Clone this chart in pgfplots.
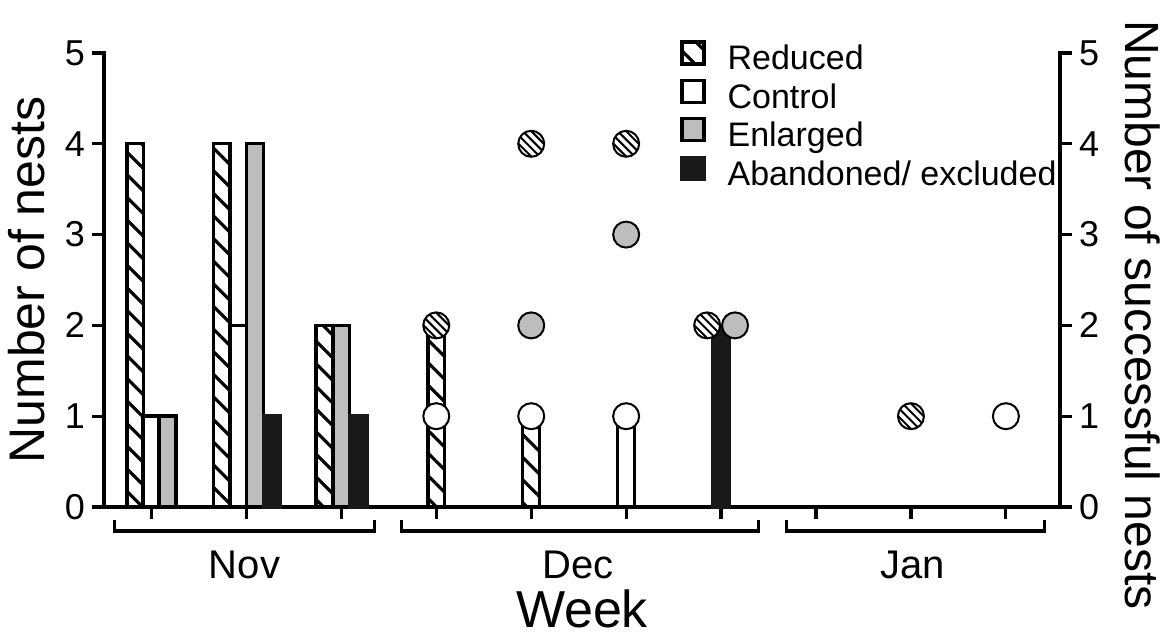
\documentclass[border=0pt]{standalone}
\usepackage{pgfplots}
\pgfplotsset{compat=1.18}
\usepackage{fontspec}
\setmainfont{Liberation Sans}
\usetikzlibrary{patterns.meta}
\definecolor{enl}{gray}{0.74}
\definecolor{aban}{gray}{0.1}

\pgfdeclareplotmark{hcircle}{%
  \pgfpathcircle{\pgfpointorigin}{\pgfplotmarksize}%
  \pgfsetfillcolor{white}\pgfusepath{fill}%
  \pgfscope
    \pgfpathcircle{\pgfpointorigin}{\pgfplotmarksize}\pgfusepath{clip}%
    \pgfsetlinewidth{1pt}%
    \pgfpathmoveto{\pgfpoint{-9.18pt}{2.82pt}}\pgfpathlineto{\pgfpoint{2.82pt}{-9.18pt}}%
    \pgfpathmoveto{\pgfpoint{-7.06pt}{4.94pt}}\pgfpathlineto{\pgfpoint{4.94pt}{-7.06pt}}%
    \pgfpathmoveto{\pgfpoint{-4.94pt}{7.06pt}}\pgfpathlineto{\pgfpoint{7.06pt}{-4.94pt}}%
    \pgfpathmoveto{\pgfpoint{-2.82pt}{9.18pt}}\pgfpathlineto{\pgfpoint{9.18pt}{-2.82pt}}%
    \pgfusepath{stroke}%
  \endpgfscope
  \pgfpathcircle{\pgfpointorigin}{\pgfplotmarksize}\pgfusepath{stroke}%
}

\begin{document}
\begin{tikzpicture}
\begin{axis}[
  scale only axis,
  width=478pt, height=227pt,
  xmin=0.5, xmax=10.57,
  ymin=0, ymax=5,
  axis x line*=bottom, axis y line*=left,
  x axis line style={-}, y axis line style={-},
  axis line style={line width=1.8pt, line cap=rect},
  tick align=outside,
  major tick length=6pt,
  tick style={line width=1.6pt, black},
  xtick={1,2,3,4,5,6,7,8,9,10},
  xticklabels={},
  ytick={0,1,2,3,4,5},
  /pgf/number format/assume math mode=true,
  yticklabel style={font=\fontsize{18}{20}\selectfont},
  ylabel={Number of nests},
  every axis y label/.style={font=\fontsize{25}{28}\selectfont, at={(axis description cs:-0.0617,0.5)}, rotate=90, anchor=south, inner sep=0pt},
  xlabel={Week},
  every axis x label/.style={font=\fontsize{26}{28}\selectfont, at={(axis description cs:0.5,0)}, anchor=base, inner sep=0pt, text depth=0pt, yshift=-60pt},
  ybar, bar width=0.178, bar shift=0pt,
  clip=false,
  legend style={draw=none, fill=none, inner sep=0pt, at={(axis description cs:0.6025,1)}, anchor=north west, yshift=6.5pt,
    font=\fontsize{17}{19}\selectfont, row sep=0.9pt,
    nodes={inner sep=0pt, text height=12.5pt, text depth=3.5pt},
    /tikz/every odd column/.style={column sep=11pt}},
  legend cell align=left,
  legend image code/.code={\draw[#1, line width=1.6pt] (0pt,-1.5pt) rectangle (11pt,9.5pt);},
]
\addplot[draw=black, line width=1.7pt, fill=white, postaction={pattern={Lines[angle=-45,distance=8pt,line width=1.6pt]}, pattern color=black}]
  coordinates {(0.83,4) (1.74,4) (2.82,2) (4,2) (5,1)};
\addlegendentry{Reduced}
\addplot[draw=black, line width=1.7pt, fill=white]
  coordinates {(1.0,1) (1.92,2) (6,1)};
\addlegendentry{Control}
\addplot[draw=black, line width=1.7pt, fill=enl]
  coordinates {(1.17,1) (2.09,4) (3.0,2)};
\addlegendentry{Enlarged}
\addplot[draw=aban, line width=1.7pt, fill=aban]
  coordinates {(2.27,1) (3.18,1) (7,2)};
\addlegendentry{Abandoned/ excluded}

% month brackets
\draw[line width=1.6pt] ([yshift=-6.5pt]axis cs:0.61,0) -- ([yshift=-12pt]axis cs:0.61,0) -- ([yshift=-12pt]axis cs:3.35,0) -- ([yshift=-6.5pt]axis cs:3.35,0);
\draw[line width=1.6pt] ([yshift=-6.5pt]axis cs:3.63,0) -- ([yshift=-12pt]axis cs:3.63,0) -- ([yshift=-12pt]axis cs:7.39,0) -- ([yshift=-6.5pt]axis cs:7.39,0);
\draw[line width=1.6pt] ([yshift=-6.5pt]axis cs:7.69,0) -- ([yshift=-12pt]axis cs:7.69,0) -- ([yshift=-12pt]axis cs:10.41,0) -- ([yshift=-6.5pt]axis cs:10.41,0);
\node[font=\fontsize{20}{22}\selectfont, anchor=base, inner sep=0pt] at ([yshift=-35.5pt]axis cs:1.98,0) {Nov};
\node[font=\fontsize{20}{22}\selectfont, anchor=base, inner sep=0pt] at ([yshift=-35.5pt]axis cs:5.49,0) {Dec};
\node[font=\fontsize{20}{22}\selectfont, anchor=base, inner sep=0pt] at ([yshift=-35.5pt]axis cs:9.02,0) {Jan};
\coordinate (bl) at (rel axis cs:0,0);
\coordinate (tr) at (rel axis cs:1,1);
\end{axis}

\begin{axis}[
  scale only axis,
  width=478pt, height=227pt,
  xmin=0.5, xmax=10.57,
  ymin=0, ymax=5,
  axis x line=none, axis y line*=right,
  y axis line style={-},
  axis line style={line width=1.8pt, line cap=rect},
  tick align=outside,
  major tick length=6pt,
  tick style={line width=1.6pt, black},
  ytick={0,1,2,3,4,5},
  /pgf/number format/assume math mode=true,
  yticklabel style={font=\fontsize{18}{20}\selectfont},
  ylabel={Number of successful nests},
  every axis y label/.style={font=\fontsize{24}{28}\selectfont, at={(axis description cs:1.068,0.423)}, rotate=-90, anchor=south, inner sep=0pt},
  clip=false,
]
\addplot[only marks, mark=hcircle, mark size=6.5pt, mark options={draw=black, line width=1pt}]
  coordinates {(4,2) (5,4) (6,4) (6.853,2) (9,1)};
\addplot[only marks, mark=*, mark size=6.5pt, mark options={draw=black, fill=white, line width=1pt}]
  coordinates {(4,1) (5,1) (6,1) (10,1)};
\addplot[only marks, mark=*, mark size=6.5pt, mark options={draw=black, fill=enl, line width=1pt}]
  coordinates {(5,2) (6,3) (7.147,2)};
\end{axis}
\pgfresetboundingbox
\path ([shift={(-52pt,-64.5pt)}]bl) rectangle ([shift={(55.5pt,26.5pt)}]tr);
\end{tikzpicture}
\end{document}
